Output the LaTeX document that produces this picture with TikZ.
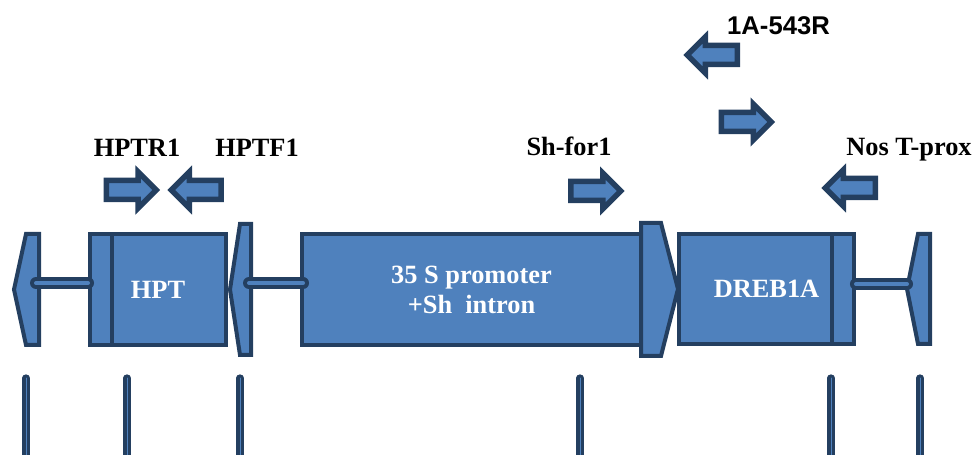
\documentclass[tikz,border=0pt]{standalone}
\usepackage{fontspec}
\setmainfont{Liberation Serif}
\newfontfamily\arialfam{Liberation Sans}
\usetikzlibrary{shapes.arrows,positioning}

\definecolor{cassette}{HTML}{4F81BD}
\definecolor{rim}{HTML}{243F60}

\tikzstyle{box} = [rectangle, draw=rim, fill=cassette, line width=0.08cm, text=white, align=center, inner sep=0pt, font=\fontsize{15}{17}\selectfont\bfseries]
\tikzstyle{border} = [draw=rim, fill=cassette, line width=0.08cm, line join=miter]
\tikzstyle{primer} = [single arrow, draw=rim, fill=cassette, line width=0.11cm, minimum height=1.0cm, inner sep=0.135cm, single arrow head extend=0.17cm]
\tikzstyle{tag} = [anchor=base, inner sep=0pt, font=\fontsize{15}{17}\selectfont\bfseries]
\tikzstyle{linker} = [draw=rim, line width=0.08cm, double=cassette, double distance=0.08cm, line cap=round]
\tikzstyle{site} = [draw=rim, line width=0.065cm, double=cassette, double distance=0.015cm, line cap=round]

\begin{document}
\begin{tikzpicture}[x=0.02cm, y=-0.02cm]
  \useasboundingbox (0,0) rectangle (977,455);

  % left border and the hygromycin cassette
  \draw [border] (26,234) -- (39,234) -- (39,345) -- (26,345) -- (14,289.5) -- cycle;
  \node (hpt) [box, minimum width=2.72cm, minimum height=2.22cm] at (158,289.5) {HPT};
  \draw [border] ([xshift=0.48cm]hpt.north west) -- ([xshift=0.48cm]hpt.south west);
  \draw [border] (240,224) -- (251,224) -- (251,355) -- (240,355) -- (230,289.5) -- cycle;

  % promoter, then the DREB1A cassette
  \node (prom) [box, minimum width=6.78cm, minimum height=2.22cm] at (471.5,289.5) {35 S promoter\\+Sh\ \ intron};
  \draw [border] (641,223) -- (661,223) -- (678,289) -- (661,356) -- (641,356) -- cycle;
  \node (dreb) [box, minimum width=3.5cm, minimum height=2.2cm] at (766.5,289) {DREB1A};
  \draw [border] ([xshift=-0.48cm]dreb.north east) -- ([xshift=-0.48cm]dreb.south east);
  \draw [border] (918,234) -- (930,234) -- (930,344) -- (918,344) -- (907,289) -- cycle;

  % spacers between the parts
  \coordinate (lb) at (36,283);
  \coordinate (mb) at (249,283);
  \coordinate (rb) at (907,284);
  \draw [linker] (lb) -- (lb -| hpt.west);
  \draw [linker] (mb) -- ([xshift=0.06cm]mb -| prom.west);
  \draw [linker] (dreb.east |- rb) -- (rb);

  % primers
  \node (hptr1) [primer] at (126.5,190) {};
  \node (hptf1) [primer, shape border rotate=180] at (201,190) {};
  \node (shfor1) [primer] at (591,191) {};
  \node (rev543) [primer, shape border rotate=180] at (717,55) {};
  \node (fwd543) [primer] at (741.5,122) {};
  \node (nosprox) [primer, shape border rotate=180] at (855,188) {};

  \node (hptr1_lbl) [tag] at (137,157) {HPTR1};
  \node (hptf1_lbl) [tag] at (257,157) {HPTF1};
  \node (shfor1_lbl) [tag] at (569,156) {Sh-for1};
  \node (rev543_lbl) [tag, font=\fontsize{14.6}{17}\selectfont\arialfam\bfseries] at (778.5,35) {1A-543R};
  \node (nosprox_lbl) [tag] at (909,156) {Nos T-prox};

  % site marks
  \draw [site] (26,378) -- (26,460);
  \draw [site] (127,378) -- (127,460);
  \draw [site] (240,378) -- (240,460);
  \draw [site] (580,378) -- (580,460);
  \draw [site] (831,378) -- (831,460);
  \draw [site] (920,378) -- (920,460);
\end{tikzpicture}
\end{document}
